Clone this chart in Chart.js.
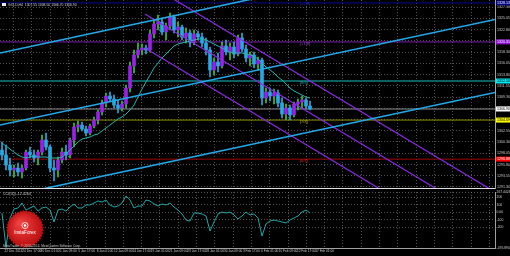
<!DOCTYPE html>
<html lang="en">
<head>
    <meta charset="UTF-8">
    <title>GOLD H4</title>
    <script src="https://cdn.jsdelivr.net/npm/chart.js"></script>
    <style>
        html, body { margin: 0; padding: 0; background: #000; }
        #wrap { position: relative; width: 510px; height: 256px; overflow: hidden; background: #000; }
        #mainChart { position: absolute; left: 0; top: 0; }
        #oscChart { position: absolute; left: 0; top: 189px; }
    </style>
</head>
<body>
<div id="wrap">
    <canvas id="mainChart" width="510" height="190"></canvas>
    <canvas id="oscChart" width="510" height="67"></canvas>
</div>
<script>
// ---- values ----
const headerText = 'GOLD,H4  1307.55 1308.50 1306.70 1306.90';
const oscTitle = 'CCI(50) -12.4264';
const copyrightText = 'MetaTrader, \u00a9 2001-2014, MetaQuotes Software Corp.';

const timeLabels = ['22 Dec 2014', '24 Dec 17:00', '30 Dec 01:00', '1 Jan 09:00', '5 Jan 17:00', '8 Jan 01:00',
    '12 Jan 09:00', '14 Jan 17:00', '19 Jan 01:00', '21 Jan 09:00', '23 Jan 17:00', '28 Jan 01:00',
    '30 Jan 09:00', '3 Feb 17:00', '6 Feb 01:00', '10 Feb 09:00', '12 Feb 17:00', '17 Feb 01:00'];

const candleOpen = [1298.7,1297.7,1295.7,1294.7,1295.1,1294.3,1295.1,1298.3,1297.7,1297.1,
    1298.3,1300.7,1299.3,1295.1,1294.7,1296.7,1298.3,1297.7,1300.7,1303.3,
    1303.7,1302.9,1302.1,1303.5,1304.7,1306.3,1308.1,1309.5,1308.9,1307.7,
    1307.1,1307.9,1311.1,1315.5,1317.7,1318.7,1319.1,1318.7,1321.9,1323.9,
    1324.3,1322.3,1323.5,1325.3,1322.7,1323.3,1321.3,1322.1,1320.3,1321.9,
    1321.3,1320.1,1318.7,1314.7,1316.3,1315.5,1319.5,1318.3,1319.3,1317.9,
    1321.1,1318.9,1317.1,1317.7,1315.9,1316.7,1309.1,1310.3,1309.5,1310.1,
    1308.1,1305.9,1307.1,1305.7,1307.9,1308.3,1308.7,1307.5];
const candleHigh = [1300.3,1299.7,1297.1,1295.7,1296.1,1295.7,1298.7,1299.3,1298.7,1298.7,
    1301.7,1302.1,1299.7,1296.7,1297.3,1299.1,1299.7,1301.1,1304.1,1304.5,
    1304.3,1303.5,1303.9,1305.3,1306.7,1308.7,1310.1,1310.3,1309.7,1308.7,
    1308.5,1311.7,1316.3,1318.7,1320.1,1319.9,1319.7,1322.7,1324.7,1325.7,
    1325.1,1324.1,1326.1,1325.7,1324.3,1323.7,1323.1,1322.7,1322.7,1322.5,
    1322.1,1321.1,1319.3,1317.1,1318.1,1320.3,1320.7,1320.1,1320.3,1321.7,
    1322.1,1319.7,1318.3,1318.3,1317.3,1317.1,1311.1,1311.1,1310.9,1310.7,
    1309.1,1307.9,1307.7,1308.3,1308.9,1309.5,1309.1,1308.5];
const candleLow = [1296.7,1294.7,1293.5,1293.3,1293.5,1293.1,1294.7,1297.1,1296.3,1295.7,
    1297.7,1298.7,1294.3,1292.5,1293.3,1296.1,1296.7,1297.1,1299.3,1302.3,
    1302.5,1301.5,1301.7,1303.1,1303.9,1305.7,1307.3,1308.3,1307.1,1306.1,
    1306.5,1307.1,1310.3,1314.1,1317.1,1317.7,1317.9,1318.3,1321.1,1322.7,
    1321.7,1320.7,1322.7,1322.1,1321.3,1320.7,1320.1,1319.3,1319.7,1320.7,
    1319.3,1317.7,1313.3,1313.7,1314.3,1315.1,1317.7,1316.7,1317.1,1317.5,
    1318.3,1316.3,1315.5,1315.1,1314.7,1307.7,1308.1,1308.5,1307.9,1307.3,
    1305.1,1304.7,1304.7,1305.3,1306.7,1307.1,1306.9,1306.7];
const candleClose = [1297.7,1295.7,1294.7,1295.1,1294.3,1295.1,1298.3,1297.7,1297.1,1298.3,
    1300.7,1299.3,1295.1,1294.7,1296.7,1298.3,1297.7,1300.7,1303.3,1303.7,
    1302.9,1302.1,1303.5,1304.7,1306.3,1308.1,1309.5,1308.9,1307.7,1307.1,
    1307.9,1311.1,1315.5,1317.7,1318.7,1319.1,1318.7,1321.9,1323.9,1324.3,
    1322.3,1323.5,1325.3,1322.7,1323.3,1321.3,1322.1,1320.3,1321.9,1321.3,
    1320.1,1318.7,1314.7,1316.3,1315.5,1319.5,1318.3,1319.3,1317.9,1321.1,
    1318.9,1317.1,1317.7,1315.9,1316.7,1309.1,1310.3,1309.5,1310.1,1308.1,
    1305.9,1307.1,1305.7,1307.9,1308.3,1308.7,1307.5,1306.9];

// moving average drawn over the candles
const maValues = [1300.1,1299.5,1298.9,1298.3,1297.7,1297.3,1297.1,1297.3,1297.5,1297.3,
    1297.3,1297.3,1297.1,1297.1,1297.1,1297.3,1297.9,1298.7,1299.5,1300.3,
    1300.9,1301.1,1301.3,1301.7,1301.9,1302.5,1303.1,1303.7,1304.3,1304.9,
    1305.3,1305.9,1306.7,1307.7,1309.3,1310.9,1312.3,1313.7,1315.1,1316.1,
    1317.1,1317.9,1318.7,1319.5,1319.9,1320.1,1320.3,1320.5,1320.7,1320.9,
    1320.9,1320.7,1320.3,1319.9,1319.5,1319.1,1318.7,1318.3,1318.1,1318.1,
    1318.1,1317.9,1317.7,1317.5,1316.9,1316.1,1315.3,1314.7,1314.1,1313.3,
    1312.7,1311.9,1311.1,1310.5,1310.1,1309.7,1309.3,1309.1];

// oscillator in the lower window
const cciValues = [-12,-470,-78,41,55,121,28,55,81,14,
    55,68,28,-131,28,41,14,68,108,55,
    55,95,95,121,148,134,161,95,68,81,
    121,214,161,55,81,81,161,148,108,81,
    108,95,121,68,28,-25,-105,-118,-12,-12,
    -25,-51,-251,-131,-25,1,-12,1,-38,-91,
    -51,1,-38,-25,-78,-318,-158,-118,-105,-118,
    -131,-144,-105,-78,-51,1,28,-12];

const priceTicks = [1327.30,1325.05,1322.80,1320.55,1318.30,1316.05,1313.80,1311.55,1309.30,
    1307.05,1304.80,1302.55,1300.30,1298.05,1295.80,1293.55,1291.30];
const cciTicks = [267.4426, 200, 100, 0, -100, -200, -476.8901];
const cciTickLabels = ['267.4426', '200', '100', '0.00', '-100', '-200', '-476.8901'];

// horizontal levels and their names
const murrayLevels = [1328.125, 1320.3125, 1312.5, 1304.6875, 1296.875];
const murrayNames = ['[+2/8]', '[+1/8]', '[8/8]', '[7/8]', '[6/8]'];

// channels: [bar index start, price start, bar index end, price end]
const cyanLines = [[-0.5, 1318.1, 123.25, 1339.3], [-0.5, 1303.7, 123.25, 1324.8], [-0.5, 1289.1, 123.25, 1310.2]];
const purpleLines = [[35.75, 1332.3, 123.25, 1290.3], [35.75, 1325.9, 123.25, 1283.9], [35.75, 1319.1, 123.25, 1277.1]];

// ---- styles ----
const FONT = '"Liberation Sans", "DejaVu Sans", sans-serif';
const gridColor = 'rgba(150,150,150,0.55)';
const levelLineColors = ['#000090', '#7a1fb0', '#0d6060', '#8a8a00', '#a00000'];
const levelLineWidths = [1, 1, 2, 1, 1];
const levelTextColors = ['#2a2ab0', '#9040d0', '#20a0a0', '#b0b000', '#d02020'];
const boxColors = ['#000080', '#8a10d0', '#00e8f0', '#ffff00', '#ff0000'];
const boxTextColors = ['#ffffff', '#ffffff', '#000000', '#000000', '#ffffff'];

const X_MIN = -0.5, X_MAX = 123.25;   // 4 px per bar over a 495 px plot
const lastPrice = candleClose[candleClose.length - 1];

// vertical grid every ~18.3 px
const gridValues = [];
for (let k = 0; k < 27; k++) gridValues.push((13.5 + 18.3 * k) / 4 - 0.5);

const bull = candleOpen.map((o, i) => candleClose[i] >= o);

function segment(x0, y0, x1, y1) {
    return [{x: x0, y: y0}, {x: x1, y: y1}];
}

// ---- main price window ----
const mainDatasets = [];

cyanLines.forEach(l => mainDatasets.push({
    type: 'line', data: segment(l[0], l[1], l[2], l[3]),
    borderColor: '#22a8e8', borderWidth: 1.6, pointRadius: 0, order: 1
}));
purpleLines.forEach(l => mainDatasets.push({
    type: 'line', data: segment(l[0], l[1], l[2], l[3]),
    borderColor: '#8a2be2', borderWidth: 1.2, pointRadius: 0, order: 1
}));
mainDatasets.push({
    type: 'line', data: maValues.map((v, i) => ({x: i, y: v})),
    borderColor: '#24b4aa', borderWidth: 1, pointRadius: 0, order: 2
});
mainDatasets.push({
    type: 'bar', data: candleOpen.map((o, i) => ({x: i, y: [o, candleClose[i]]})),
    backgroundColor: bull.map(b => b ? '#9a22e6' : '#2aa8e0'),
    barThickness: 3, minBarLength: 1, grouped: false, order: 3
});
mainDatasets.push({
    type: 'bar', data: candleLow.map((l, i) => ({x: i, y: [l, candleHigh[i]]})),
    backgroundColor: bull.map(b => b ? '#34c448' : '#2aa8e0'),
    barThickness: 1, grouped: false, order: 4
});
murrayLevels.forEach((p, i) => mainDatasets.push({
    type: 'line', data: segment(X_MIN, p, X_MAX, p),
    borderColor: levelLineColors[i], borderWidth: levelLineWidths[i], pointRadius: 0, order: 5
}));
mainDatasets.push({
    type: 'line', data: segment(X_MIN, lastPrice, X_MAX, lastPrice),
    borderColor: '#8a8a8a', borderWidth: 1, pointRadius: 0, order: 5
});

// text, level names and price boxes on the right axis
const mainOverlay = {
    id: 'mainOverlay',
    afterDraw(chart) {
        const {ctx, chartArea} = chart;
        const x = chart.scales.x, y = chart.scales.y;
        ctx.save();
        ctx.fillStyle = '#e8e8e8';
        ctx.fillRect(2, 3, 4, 3);
        ctx.font = '3.4px ' + FONT;
        ctx.textBaseline = 'middle';
        ctx.fillStyle = '#d0d0d0';
        ctx.fillText(headerText, 8, 4.6);

        ctx.font = '4px ' + FONT;
        murrayLevels.forEach((p, i) => {
            const py = y.getPixelForValue(p);
            ctx.fillStyle = levelTextColors[i];
            ctx.textAlign = 'left';
            ctx.fillText(murrayNames[i], x.getPixelForValue(74.5), py + 1.5);
        });

        const boxes = murrayLevels.map((p, i) => [p, boxColors[i], boxTextColors[i]]);
        boxes.push([lastPrice, '#ffffff', '#000000']);
        ctx.font = '3.6px ' + FONT;
        boxes.forEach(b => {
            const py = y.getPixelForValue(b[0]);
            ctx.fillStyle = b[1];
            ctx.fillRect(chartArea.right + 1, py - 2.5, 15, 5);
            ctx.fillStyle = b[2];
            ctx.textAlign = 'left';
            ctx.fillText(b[0].toFixed(2), chartArea.right + 2, py + 0.2);
        });
        ctx.restore();
    }
};

new Chart(document.getElementById('mainChart'), {
    type: 'bar',
    data: {datasets: mainDatasets},
    options: {
        responsive: false, animation: false, events: [],
        layout: {padding: {left: 0, right: 0, top: 0, bottom: 1}},
        plugins: {legend: {display: false}, tooltip: {enabled: false}},
        scales: {
            x: {
                type: 'linear', min: X_MIN, max: X_MAX, offset: false, bounds: 'data',
                afterBuildTicks: s => { s.ticks = gridValues.map(v => ({value: v})); },
                afterFit: s => { s.height = 1; s.paddingLeft = 0; s.paddingRight = 0; },
                ticks: {display: false},
                grid: {color: gridColor, drawTicks: false, offset: false},
                border: {display: true, color: '#e0e0e0', width: 1, dash: [1, 2]}
            },
            y: {
                type: 'linear', position: 'right', min: 1291.1, max: 1328.7, bounds: 'data',
                afterBuildTicks: s => { s.ticks = priceTicks.map(v => ({value: v})); },
                afterFit: s => { s.width = 15; s.paddingTop = 0; s.paddingBottom = 0; },
                ticks: {color: '#c8c8c8', font: {size: 3.6, family: FONT}, padding: 2,
                    callback: v => v.toFixed(2)},
                grid: {color: gridColor, drawTicks: false},
                border: {display: true, color: '#a0a0a0', width: 1, dash: [1, 2]}
            }
        }
    },
    plugins: [mainOverlay]
});

// ---- lower oscillator window ----
const oscOverlay = {
    id: 'oscOverlay',
    afterDraw(chart) {
        const {ctx} = chart;
        ctx.save();
        ctx.font = '3.6px ' + FONT;
        ctx.textBaseline = 'middle';
        ctx.fillStyle = '#d0d0d0';
        ctx.fillText(oscTitle, 3, 5);

        // broker badge
        const cx = 25, cy = 40, r = 19;
        const g = ctx.createRadialGradient(cx - 5, cy - 6, 2, cx, cy, r);
        g.addColorStop(0, '#f04040');
        g.addColorStop(1, '#b80c0c');
        ctx.fillStyle = g;
        ctx.beginPath();
        const n = 40;
        for (let k = 0; k < n * 2; k++) {
            const a = k * Math.PI / n;
            const rr = k % 2 ? r : r - 1.6;
            ctx.lineTo(cx + rr * Math.cos(a), cy + rr * Math.sin(a));
        }
        ctx.closePath();
        ctx.fill();
        ctx.strokeStyle = '#ffffff';
        ctx.fillStyle = '#ffffff';
        ctx.lineWidth = 0.8;
        ctx.beginPath();
        ctx.arc(cx, cy - 3.5, 3, 0, Math.PI * 2);
        ctx.stroke();
        ctx.beginPath();
        ctx.arc(cx, cy - 3.5, 1.2, 0, Math.PI * 2);
        ctx.fill();
        ctx.font = '4.6px ' + FONT;
        ctx.textAlign = 'center';
        ctx.fillText('InstaForex', cx, cy + 3.5);

        ctx.textAlign = 'left';
        ctx.font = '3.2px ' + FONT;
        ctx.fillStyle = '#c8c8c8';
        ctx.fillText(copyrightText, 3, 57.5);
        ctx.restore();
    }
};

new Chart(document.getElementById('oscChart'), {
    type: 'line',
    data: {
        datasets: [{
            data: cciValues.map((v, i) => ({x: i, y: v})),
            borderColor: '#1fa6a6', borderWidth: 1, pointRadius: 0, tension: 0
        }]
    },
    options: {
        responsive: false, animation: false, events: [],
        layout: {padding: {left: 0, right: 0, top: 3, bottom: 0}},
        plugins: {legend: {display: false}, tooltip: {enabled: false}},
        scales: {
            x: {
                type: 'linear', min: X_MIN, max: X_MAX, offset: false, bounds: 'data',
                afterBuildTicks: s => { s.ticks = gridValues.map(v => ({value: v})); },
                afterFit: s => { s.height = 8; s.paddingLeft = 0; s.paddingRight = 0; },
                ticks: {color: '#c8c8c8', font: {size: 3.2, family: FONT}, padding: 1.5,
                    maxRotation: 0, autoSkip: false,
                    callback: (v, i) => timeLabels[i] || ''},
                grid: {color: gridColor, drawTicks: false},
                border: {display: true, color: '#a0a0a0', width: 1, dash: [1, 2]}
            },
            y: {
                type: 'linear', position: 'right', min: -476.8901, max: 267.4426, bounds: 'data',
                afterBuildTicks: s => { s.ticks = cciTicks.map(v => ({value: v})); },
                afterFit: s => { s.width = 15; s.paddingTop = 0; s.paddingBottom = 0; },
                ticks: {color: '#c8c8c8', font: {size: 3.4, family: FONT}, padding: 1.5,
                    callback: (v, i) => cciTickLabels[i]},
                grid: {color: gridColor, drawTicks: false},
                border: {display: true, color: '#a0a0a0', width: 1, dash: [1, 2]}
            }
        }
    },
    plugins: [oscOverlay]
});
</script>
</body>
</html>
